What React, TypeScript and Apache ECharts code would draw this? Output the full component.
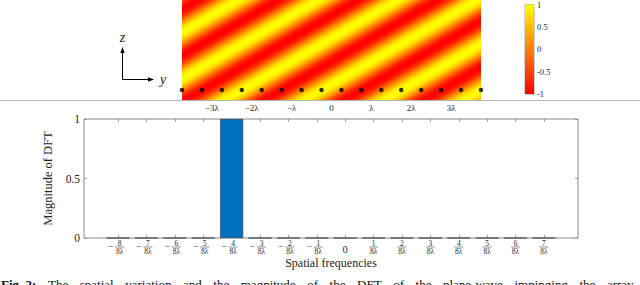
import React, { useEffect, useRef } from "react";
import * as echarts from "echarts";

// ---------- data ----------
const FIELD_Y_RANGE = [-3.75, 3.75]; // λ
const FIELD_Z_RANGE = [0, 2.5]; // λ
const FIELD_TICKS = [-3, -2, -1, 0, 1, 2, 3];
const FIELD_TICK_LABELS = ["−3λ", "−2λ", "−λ", "0", "λ", "2λ", "3λ"];
const ARRAY_POSITIONS = [
  -3.75, -3.25, -2.75, -2.25, -1.75, -1.25, -0.75, -0.25,
  0.25, 0.75, 1.25, 1.75, 2.25, 2.75, 3.25, 3.75,
];
const ARRAY_HEIGHT = 0.25;
const WAVE_PERIOD_Y = 2; // λ along y
const WAVE_PERIOD_Z = 1.155; // λ along z
const WAVE_CREST = [0.5, 1.83]; // a point on a yellow crest (y, z)
const COLORBAR_RANGE = [-1, 1];
const COLORBAR_TICKS = [-1, -0.5, 0, 0.5, 1];

const FREQ_BINS = [-8, -7, -6, -5, -4, -3, -2, -1, 0, 1, 2, 3, 4, 5, 6, 7];
const FREQ_DENOMINATOR = "8λ";
const DFT_MAGNITUDE = [0, 0, 0, 0, 1, 0, 0, 0, 0, 0, 0, 0, 0, 0, 0, 0];
const FREQ_RANGE = [-9.2, 8.2];
const MAG_TICKS = [0, 0.5, 1];

const CAPTION_LABEL = "Fig. 2:";
const CAPTION_TEXT =
  "The spatial variation and the magnitude of the DFT of the plane-wave impinging the array.";

// ---------- styles ----------
const SERIF = "Liberation Serif";
const INK = "#262626";
const BOX = "#8a8a8a";
const CAPTION_SIZE = 13;

function autumn(v: number) {
  const g = Math.round((255 * (v + 1)) / 2);
  return `rgb(255,${g},0)`;
}

const hiddenLine = { show: false, onZero: false };

function captionElements(): any[] {
  const ctx = document.createElement("canvas").getContext("2d")!;
  const words = [
    { t: CAPTION_LABEL, bold: true },
    ...CAPTION_TEXT.split(" ").map((t) => ({ t, bold: false })),
  ];
  const widths = words.map((w) => {
    ctx.font = `${w.bold ? "bold " : ""}${CAPTION_SIZE}px "${SERIF}"`;
    return ctx.measureText(w.t).width;
  });
  const left = 1;
  const right = 636;
  const total = widths.reduce((a, b) => a + b, 0);
  const gap = Math.max(3, (right - left - total) / (words.length - 1));
  let x = left;
  return words.map((w, i) => {
    const el = {
      type: "text",
      x,
      y: 284,
      style: {
        text: w.t,
        fontFamily: SERIF,
        fontSize: CAPTION_SIZE,
        fontWeight: w.bold ? "bold" : "normal",
        fill: "#111",
        verticalAlign: "middle",
      },
    };
    x += widths[i] + gap;
    return el;
  });
}

export default function App() {
  const ref = useRef<HTMLDivElement>(null);

  useEffect(() => {
    document.body.style.margin = "0";
    const chart = echarts.init(ref.current!, null, {
      renderer: "svg",
      width: 640,
      height: 285,
    });

    const tickStyle = { color: BOX, width: 0.8 };

    const option: any = {
      animation: false,
      grid: [
        { left: 182, top: 0, width: 299, height: 100 },
        {
          left: 84,
          top: 119,
          width: 494,
          height: 119,
          show: true,
          borderColor: BOX,
          borderWidth: 1,
        },
        {
          left: 525,
          top: 3,
          width: 9,
          height: 91,
          show: true,
          borderColor: BOX,
          borderWidth: 0.8,
        },
      ],
      xAxis: [
        {
          gridIndex: 0,
          type: "value",
          min: FIELD_Y_RANGE[0],
          max: FIELD_Y_RANGE[1],
          axisLine: hiddenLine,
          axisTick: { show: false },
          splitLine: { show: false },
          axisLabel: {
            customValues: FIELD_TICKS,
            margin: 3,
            fontSize: 9,
            fontFamily: SERIF,
            color: INK,
            formatter: (v: number) => FIELD_TICK_LABELS[FIELD_TICKS.indexOf(v)] ?? "",
          },
        },
        {
          gridIndex: 1,
          type: "value",
          min: FREQ_RANGE[0],
          max: FREQ_RANGE[1],
          axisLine: hiddenLine,
          axisTick: {
            show: true,
            inside: true,
            length: 3,
            customValues: FREQ_BINS,
            lineStyle: tickStyle,
          },
          axisLabel: { show: false },
          splitLine: { show: false },
          name: "Spatial frequencies",
          nameLocation: "middle",
          nameGap: 19,
          nameTextStyle: { fontFamily: SERIF, fontSize: 12, color: INK, lineHeight: 12 },
        },
        {
          gridIndex: 2,
          type: "value",
          min: 0,
          max: 1,
          show: false,
        },
        {
          gridIndex: 1,
          type: "value",
          position: "top",
          min: FREQ_RANGE[0],
          max: FREQ_RANGE[1],
          axisLine: hiddenLine,
          axisTick: {
            show: true,
            inside: true,
            length: 3,
            customValues: FREQ_BINS,
            lineStyle: tickStyle,
          },
          axisLabel: { show: false },
          splitLine: { show: false },
        },
      ],
      yAxis: [
        {
          gridIndex: 0,
          type: "value",
          min: FIELD_Z_RANGE[0],
          max: FIELD_Z_RANGE[1],
          show: false,
        },
        {
          gridIndex: 1,
          type: "value",
          position: "left",
          min: 0,
          max: 1,
          interval: 0.5,
          axisLine: hiddenLine,
          axisTick: {
            show: true,
            inside: true,
            length: 3,
            customValues: MAG_TICKS,
            lineStyle: tickStyle,
          },
          splitLine: { show: false },
          axisLabel: {
            margin: 4,
            fontSize: 11.5,
            fontFamily: SERIF,
            color: INK,
            customValues: MAG_TICKS,
            formatter: (v: number) => String(v),
          },
          name: "Magnitude of DFT",
          nameLocation: "middle",
          nameGap: 15,
          nameTextStyle: { fontFamily: SERIF, fontSize: 12.5, color: INK },
        },
        {
          gridIndex: 2,
          type: "value",
          position: "right",
          min: COLORBAR_RANGE[0],
          max: COLORBAR_RANGE[1],
          interval: 0.5,
          axisLine: hiddenLine,
          axisTick: {
            show: true,
            inside: true,
            length: 2,
            lineStyle: { color: BOX, width: 0.6 },
          },
          splitLine: { show: false },
          axisLabel: {
            margin: 3,
            fontSize: 8.5,
            fontFamily: SERIF,
            color: INK,
            formatter: (v: number) => String(v),
            customValues: COLORBAR_TICKS,
          },
        },
        {
          gridIndex: 1,
          type: "value",
          position: "right",
          min: 0,
          max: 1,
          interval: 0.5,
          axisLine: hiddenLine,
          axisTick: {
            show: true,
            inside: true,
            length: 3,
            customValues: MAG_TICKS,
            lineStyle: tickStyle,
          },
          axisLabel: { show: false },
          splitLine: { show: false },
        },
      ],
      series: [
        // plane-wave field
        {
          type: "custom",
          xAxisIndex: 0,
          yAxisIndex: 0,
          silent: true,
          data: [[0, 0]],
          renderItem: (_p: any, api: any) => {
            const tl = api.coord([FIELD_Y_RANGE[0], FIELD_Z_RANGE[1]]);
            const br = api.coord([FIELD_Y_RANGE[1], FIELD_Z_RANGE[0]]);
            const o = api.coord([0, 0]);
            const oy = api.coord([1, 0]);
            const oz = api.coord([0, 1]);
            const Ty = WAVE_PERIOD_Y * (oy[0] - o[0]);
            const Tz = WAVE_PERIOD_Z * (o[1] - oz[1]);
            const c = api.coord(WAVE_CREST);
            const kx = 1 / Ty;
            const ky = 1 / Tz;
            const kn = Math.hypot(kx, ky);
            const W = 1 / kn;
            const nx = kx / kn;
            const ny = ky / kn;
            const corners = [
              [tl[0], tl[1]],
              [br[0], tl[1]],
              [tl[0], br[1]],
              [br[0], br[1]],
            ];
            const ss = corners.map(([x, y]) => (x - c[0]) * nx + (y - c[1]) * ny);
            const s0 = Math.floor(Math.min(...ss) / W) * W;
            const s1 = Math.ceil(Math.max(...ss) / W) * W;
            const n = Math.round((s1 - s0) / W) * 32;
            const stops: any[] = [];
            for (let i = 0; i <= n; i++) {
              const s = s0 + ((s1 - s0) * i) / n;
              stops.push({ offset: i / n, color: autumn(Math.cos((2 * Math.PI * s) / W)) });
            }
            const grad = new echarts.graphic.LinearGradient(
              c[0] + s0 * nx,
              c[1] + s0 * ny,
              c[0] + s1 * nx,
              c[1] + s1 * ny,
              stops,
              true
            );
            return {
              type: "rect",
              shape: { x: tl[0], y: tl[1], width: br[0] - tl[0], height: br[1] - tl[1] },
              style: { fill: grad },
            };
          },
        },
        // array elements
        {
          type: "scatter",
          xAxisIndex: 0,
          yAxisIndex: 0,
          symbolSize: 4.5,
          itemStyle: { color: "#000" },
          silent: true,
          data: ARRAY_POSITIONS.map((p) => [p, ARRAY_HEIGHT]),
          z: 5,
        },
        // colorbar fill
        {
          type: "custom",
          xAxisIndex: 2,
          yAxisIndex: 2,
          silent: true,
          data: [[0, 0]],
          renderItem: (_p: any, api: any) => {
            const top = api.coord([0, COLORBAR_RANGE[1]]);
            const bot = api.coord([1, COLORBAR_RANGE[0]]);
            return {
              type: "rect",
              shape: { x: top[0], y: top[1], width: bot[0] - top[0], height: bot[1] - top[1] },
              style: {
                fill: new echarts.graphic.LinearGradient(0, 0, 0, 1, [
                  { offset: 0, color: autumn(1) },
                  { offset: 1, color: autumn(-1) },
                ]),
              },
            };
          },
        },
        // DFT magnitude bars
        {
          type: "bar",
          xAxisIndex: 1,
          yAxisIndex: 1,
          barWidth: 23,
          itemStyle: { color: "#0072BD", borderColor: "#23364d", borderWidth: 0.6 },
          silent: true,
          data: FREQ_BINS.map((f, i) => [f, DFT_MAGNITUDE[i]]),
        },
        // fraction tick labels
        {
          type: "custom",
          xAxisIndex: 1,
          yAxisIndex: 1,
          silent: true,
          clip: false,
          data: FREQ_BINS.map((f) => [f, 0]),
          renderItem: (_p: any, api: any) => {
            const f = api.value(0);
            const p = api.coord([f, 0]);
            const x = p[0];
            const y = p[1];
            const base = { fontFamily: SERIF, fill: INK, align: "center", verticalAlign: "middle" };
            if (f === 0) {
              return { type: "text", x, y: y + 11, style: { ...base, text: "0", fontSize: 10.5 } };
            }
            const cx = f < 0 ? x + 1.5 : x;
            const children: any[] = [
              { type: "text", x: cx, y: y + 5.3, style: { ...base, text: String(Math.abs(f)), fontSize: 7.5 } },
              {
                type: "line",
                shape: { x1: cx - 4.5, y1: y + 9, x2: cx + 4.5, y2: y + 9 },
                style: { stroke: INK, lineWidth: 0.5 },
              },
              { type: "text", x: cx, y: y + 13.5, style: { ...base, text: FREQ_DENOMINATOR, fontSize: 7.5 } },
            ];
            if (f < 0) {
              children.push({ type: "text", x: x - 7.5, y: y + 8.5, style: { ...base, text: "−", fontSize: 9.5 } });
            }
            return { type: "group", children };
          },
        },
      ],
      graphic: [
        {
          type: "line",
          z: 100,
          shape: { x1: 0, y1: 100.5, x2: 640, y2: 100.5 },
          style: { stroke: "#b4b4b4", lineWidth: 1 },
        },
        {
          type: "polyline",
          shape: { points: [[122.5, 51], [122.5, 79.5], [150, 79.5]] },
          style: { stroke: "#000", lineWidth: 1, fill: null },
        },
        {
          type: "polygon",
          shape: { points: [[122.5, 47], [120.3, 53], [124.7, 53]] },
          style: { fill: "#000" },
        },
        {
          type: "polygon",
          shape: { points: [[154, 79.5], [148, 77.3], [148, 81.7]] },
          style: { fill: "#000" },
        },
        {
          type: "text",
          x: 122.5,
          y: 37,
          style: {
            text: "z",
            fontFamily: SERIF,
            fontStyle: "italic",
            fontSize: 14,
            fill: INK,
            align: "center",
            verticalAlign: "middle",
          },
        },
        {
          type: "text",
          x: 163,
          y: 79,
          style: {
            text: "y",
            fontFamily: SERIF,
            fontStyle: "italic",
            fontSize: 14,
            fill: INK,
            align: "center",
            verticalAlign: "middle",
          },
        },
        ...captionElements(),
      ],
    };

    chart.setOption(option);
    return () => chart.dispose();
  }, []);

  return (
    <div
      ref={ref}
      style={{ width: 640, height: 285, position: "absolute", left: 0, top: 0 }}
    />
  );
}
